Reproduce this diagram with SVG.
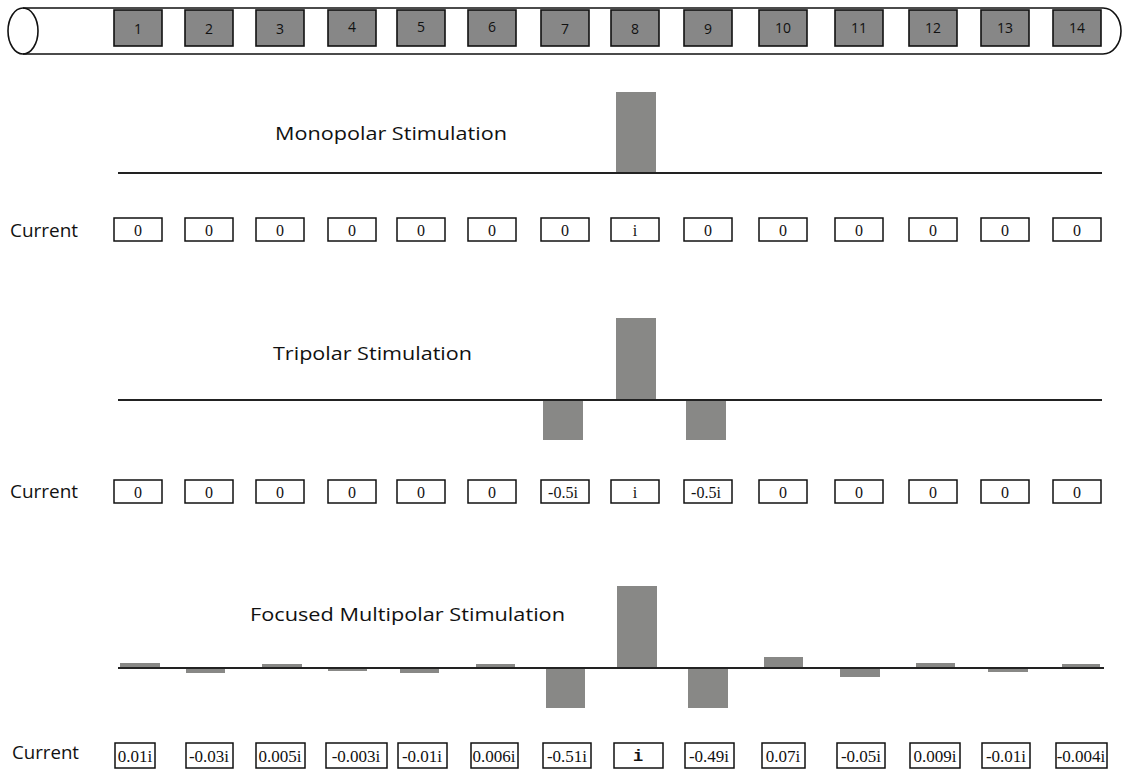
<svg xmlns="http://www.w3.org/2000/svg" width="1125" height="772" viewBox="0 0 1125 772">
<style>
.tube{fill:none;stroke:#111;stroke-width:1.6}
.el{fill:#878787;stroke:#111;stroke-width:1.6}
.eln{font-family:"Open Sans","Liberation Sans",sans-serif;font-size:14px;fill:#111;text-anchor:middle}
.base{stroke:#222;stroke-width:2}
.bar{fill:#888886}
.ttl{font-family:"Open Sans","Liberation Sans",sans-serif;font-size:19px;fill:#111}
.lbl{font-family:"Open Sans","Liberation Sans",sans-serif;font-size:18px;fill:#111}
.box{fill:#fff;stroke:#111;stroke-width:1.5}
.val{font-family:"Liberation Serif",serif;font-size:16px;fill:#111;text-anchor:middle}
.val3{font-family:"Liberation Serif",serif;font-size:17px;fill:#111;text-anchor:middle}
</style>
<rect width="1125" height="772" fill="#fff"/>
<g id="electrode-array">
<path class="tube" d="M23,8 H1103 A18,23 0 0 1 1103,54 H23"/>
<ellipse class="tube" cx="23" cy="31" rx="15" ry="23"/>
<g id="e1"><rect class="el" x="114" y="10" width="48" height="36"/><text class="eln" x="138" y="34">1</text></g>
<g id="e2"><rect class="el" x="185" y="10" width="48" height="36"/><text class="eln" x="209" y="34">2</text></g>
<g id="e3"><rect class="el" x="256" y="10" width="48" height="36"/><text class="eln" x="280" y="34">3</text></g>
<g id="e4"><rect class="el" x="328" y="10" width="48" height="36"/><text class="eln" x="352" y="32">4</text></g>
<g id="e5"><rect class="el" x="397" y="10" width="48" height="36"/><text class="eln" x="421" y="32">5</text></g>
<g id="e6"><rect class="el" x="468" y="10" width="48" height="36"/><text class="eln" x="492" y="32">6</text></g>
<g id="e7"><rect class="el" x="541" y="10" width="48" height="36"/><text class="eln" x="565" y="34">7</text></g>
<g id="e8"><rect class="el" x="611" y="10" width="48" height="36"/><text class="eln" x="635" y="34">8</text></g>
<g id="e9"><rect class="el" x="684" y="10" width="48" height="36"/><text class="eln" x="708" y="34">9</text></g>
<g id="e10"><rect class="el" x="759" y="10" width="48" height="36"/><text class="eln" x="783" y="33">10</text></g>
<g id="e11"><rect class="el" x="835" y="10" width="48" height="36"/><text class="eln" x="859" y="33">11</text></g>
<g id="e12"><rect class="el" x="909" y="10" width="48" height="36"/><text class="eln" x="933" y="33">12</text></g>
<g id="e13"><rect class="el" x="981" y="10" width="48" height="36"/><text class="eln" x="1005" y="33">13</text></g>
<g id="e14"><rect class="el" x="1053" y="10" width="48" height="36"/><text class="eln" x="1077" y="33">14</text></g>
</g>

<g id="monopolar">
<text class="ttl" x="275" y="140" textLength="232" lengthAdjust="spacingAndGlyphs">Monopolar Stimulation</text>
<rect class="bar" x="616" y="92" width="40" height="81"/>
<line class="base" x1="118" y1="173" x2="1102" y2="173"/>
<text class="lbl" x="10" y="237" textLength="68" lengthAdjust="spacingAndGlyphs">Current</text>
<g>
<rect class="box" x="114" y="218" width="48" height="23"/><text class="val" x="138" y="236">0</text>
<rect class="box" x="185" y="218" width="48" height="23"/><text class="val" x="209" y="236">0</text>
<rect class="box" x="256" y="218" width="48" height="23"/><text class="val" x="280" y="236">0</text>
<rect class="box" x="328" y="218" width="48" height="23"/><text class="val" x="352" y="236">0</text>
<rect class="box" x="397" y="218" width="48" height="23"/><text class="val" x="421" y="236">0</text>
<rect class="box" x="468" y="218" width="48" height="23"/><text class="val" x="492" y="236">0</text>
<rect class="box" x="541" y="218" width="48" height="23"/><text class="val" x="565" y="236">0</text>
<rect class="box" x="611" y="218" width="48" height="23"/><text class="val" x="635" y="236">i</text>
<rect class="box" x="684" y="218" width="48" height="23"/><text class="val" x="708" y="236">0</text>
<rect class="box" x="759" y="218" width="48" height="23"/><text class="val" x="783" y="236">0</text>
<rect class="box" x="835" y="218" width="48" height="23"/><text class="val" x="859" y="236">0</text>
<rect class="box" x="909" y="218" width="48" height="23"/><text class="val" x="933" y="236">0</text>
<rect class="box" x="981" y="218" width="48" height="23"/><text class="val" x="1005" y="236">0</text>
<rect class="box" x="1053" y="218" width="48" height="23"/><text class="val" x="1077" y="236">0</text>
</g>
</g>

<g id="tripolar">
<text class="ttl" x="273" y="360" textLength="199" lengthAdjust="spacingAndGlyphs">Tripolar Stimulation</text>
<rect class="bar" x="616" y="318" width="40" height="82"/>
<rect class="bar" x="543" y="400" width="40" height="40"/>
<rect class="bar" x="686" y="400" width="40" height="40"/>
<line class="base" x1="118" y1="400" x2="1102" y2="400"/>
<text class="lbl" x="10" y="498" textLength="68" lengthAdjust="spacingAndGlyphs">Current</text>
<g>
<rect class="box" x="114" y="480" width="48" height="23"/><text class="val" x="138" y="498">0</text>
<rect class="box" x="185" y="480" width="48" height="23"/><text class="val" x="209" y="498">0</text>
<rect class="box" x="256" y="480" width="48" height="23"/><text class="val" x="280" y="498">0</text>
<rect class="box" x="328" y="480" width="48" height="23"/><text class="val" x="352" y="498">0</text>
<rect class="box" x="397" y="480" width="48" height="23"/><text class="val" x="421" y="498">0</text>
<rect class="box" x="468" y="480" width="48" height="23"/><text class="val" x="492" y="498">0</text>
<rect class="box" x="541" y="480" width="48" height="23"/><text class="val" x="563" y="498">-0.5i</text>
<rect class="box" x="611" y="480" width="48" height="23"/><text class="val" x="635" y="498">i</text>
<rect class="box" x="684" y="480" width="48" height="23"/><text class="val" x="706" y="498">-0.5i</text>
<rect class="box" x="759" y="480" width="48" height="23"/><text class="val" x="783" y="498">0</text>
<rect class="box" x="835" y="480" width="48" height="23"/><text class="val" x="859" y="498">0</text>
<rect class="box" x="909" y="480" width="48" height="23"/><text class="val" x="933" y="498">0</text>
<rect class="box" x="981" y="480" width="48" height="23"/><text class="val" x="1005" y="498">0</text>
<rect class="box" x="1053" y="480" width="48" height="23"/><text class="val" x="1077" y="498">0</text>
</g>
</g>

<g id="focused-multipolar">
<text class="ttl" x="250" y="621" textLength="315" lengthAdjust="spacingAndGlyphs">Focused Multipolar Stimulation</text>
<rect class="bar" x="120" y="663" width="40" height="5"/>
<rect class="bar" x="186" y="668" width="39" height="5"/>
<rect class="bar" x="262" y="664" width="40" height="4"/>
<rect class="bar" x="328" y="668" width="39" height="3"/>
<rect class="bar" x="400" y="668" width="39" height="5"/>
<rect class="bar" x="476" y="664" width="39" height="4"/>
<rect class="bar" x="546" y="668" width="39" height="40"/>
<rect class="bar" x="617" y="586" width="40" height="82"/>
<rect class="bar" x="688" y="668" width="40" height="40"/>
<rect class="bar" x="764" y="657" width="39" height="11"/>
<rect class="bar" x="840" y="668" width="40" height="9"/>
<rect class="bar" x="916" y="663" width="39" height="5"/>
<rect class="bar" x="988" y="668" width="40" height="4"/>
<rect class="bar" x="1062" y="664" width="38" height="4"/>
<line class="base" x1="118" y1="668" x2="1104" y2="668"/>
<text class="lbl" x="12" y="759" textLength="67" lengthAdjust="spacingAndGlyphs">Current</text>
<g>
<rect class="box" x="115" y="743" width="40" height="25"/><text class="val3" x="135" y="762">0.01i</text>
<rect class="box" x="186" y="743" width="47" height="25"/><text class="val3" x="209" y="762">-0.03i</text>
<rect class="box" x="256" y="743" width="49" height="25"/><text class="val3" x="280" y="762">0.005i</text>
<rect class="box" x="326" y="743" width="61" height="25"/><text class="val3" x="356" y="762">-0.003i</text>
<rect class="box" x="398" y="743" width="49" height="25"/><text class="val3" x="422" y="762">-0.01i</text>
<rect class="box" x="471" y="743" width="47" height="25"/><text class="val3" x="494" y="762">0.006i</text>
<rect class="box" x="543" y="743" width="48" height="25"/><text class="val3" x="567" y="762">-0.51i</text>
<rect class="box" x="614" y="743" width="49" height="25"/><text x="638" y="761" font-family="Liberation Mono,monospace" font-weight="bold" font-size="17" text-anchor="middle" fill="#111">i</text>
<rect class="box" x="685" y="743" width="49" height="25"/><text class="val3" x="709" y="762">-0.49i</text>
<rect class="box" x="762" y="743" width="43" height="25"/><text class="val3" x="783" y="762">0.07i</text>
<rect class="box" x="837" y="743" width="48" height="25"/><text class="val3" x="861" y="762">-0.05i</text>
<rect class="box" x="910" y="743" width="50" height="25"/><text class="val3" x="935" y="762">0.009i</text>
<rect class="box" x="982" y="743" width="48" height="25"/><text class="val3" x="1006" y="762">-0.01i</text>
<rect class="box" x="1056" y="743" width="51" height="25"/><text class="val3" x="1081" y="762">-0.004i</text>
</g>
</g>
</svg>
